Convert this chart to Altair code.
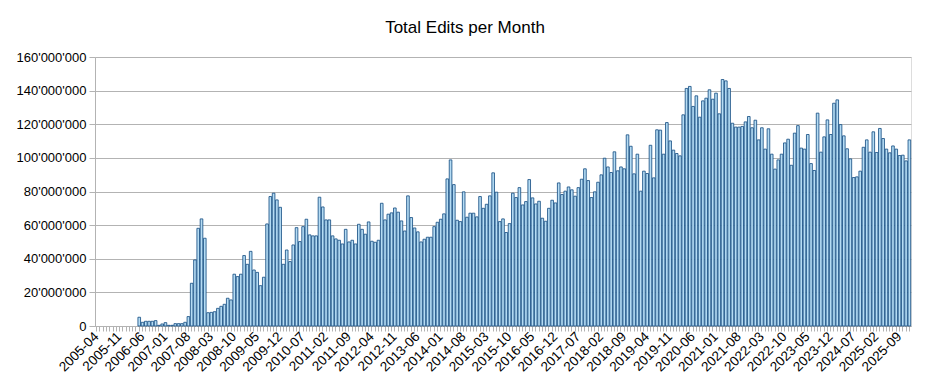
import altair as alt
import pandas as pd

# Monthly categories 2005-04 .. 2025-12
months = []
y, m = 2005, 4
while (y, m) <= (2025, 12):
    months.append(f"{y}-{m:02d}")
    m += 1
    if m > 12:
        m = 1
        y += 1

# Total edits per month, in millions
edits_m = (
    [0] * 13 +
    [5.2, 2.2, 2.8, 2.8, 2.8, 3.2, 0.4, 1.2, 2.0, 0.4, 0.4, 1.4, 1.4, 1.4, 2.2, 5.6,
     25.4, 39.3, 58.1, 63.7, 52.2, 7.9, 8.1, 8.5, 10.5, 11.7, 12.9, 16.5, 15.5,
     30.8, 29.4, 30.8, 41.9, 36.7, 44.4, 33.3, 31.9, 24.0, 29.0, 60.7, 77.0, 79.0,
     75.0, 70.6, 36.7, 45.2, 38.3, 48.2, 58.5, 50.2, 59.1, 63.5, 54.2, 53.6, 53.6,
     76.6, 70.8, 63.1, 63.1, 53.6, 51.8, 51.0, 48.8, 57.5, 50.0, 51.0, 48.8, 60.5,
     57.5, 54.6, 61.9, 50.4, 49.8, 51.0, 73.0, 63.1, 66.5, 67.3, 70.2, 67.7, 62.5,
     56.5, 77.4, 64.5, 58.3, 56.0, 50.0, 51.6, 52.8, 52.8, 59.1, 61.7, 63.5, 66.7,
     87.5, 98.8, 84.1, 62.9, 62.1, 79.8, 64.7, 67.1, 67.1, 64.9, 77.0, 70.0, 72.4,
     77.4, 91.1, 79.6, 62.1, 63.7, 55.6, 60.9, 79.0, 76.4, 82.3, 72.0, 74.0, 87.1,
     76.2, 72.6, 74.2, 64.1, 62.3, 70.0, 74.8, 73.2, 85.1, 78.2, 80.2, 82.7, 81.0,
     77.2, 82.3, 87.3, 93.5, 86.5, 76.4, 79.8, 85.5, 89.9, 99.8, 94.6, 91.3, 103.6,
     92.3, 94.6, 93.5, 113.7, 106.9, 90.5, 102.2, 80.2, 92.1, 90.7, 107.5, 88.1,
     116.7, 116.5, 102.2, 121.0, 110.1, 104.6, 102.6, 101.2, 125.6, 141.3, 142.5,
     130.6, 136.9, 124.2, 133.9, 135.5, 140.5, 134.9, 138.5, 126.2, 146.6, 145.8,
     141.3, 120.6, 118.3, 118.3, 118.7, 121.4, 124.6, 117.9, 122.4, 110.7, 117.9,
     105.2, 117.3, 102.2, 93.3, 98.8, 102.2, 108.9, 111.1, 95.6, 114.7, 119.2,
     105.8, 105.2, 113.9, 96.6, 92.5, 126.6, 103.4, 112.5, 122.6, 113.9, 132.5,
     134.5, 119.8, 113.1, 105.4, 99.4, 88.3, 88.7, 92.1, 106.3, 110.7, 103.4, 115.5,
     103.2, 117.5, 111.5, 105.2, 103.0, 107.1, 105.2, 101.4, 101.6, 98.2, 110.7]
)

y_ticks = [0, 20e6, 40e6, 60e6, 80e6, 100e6, 120e6, 140e6, 160e6]
label_months = months[0:246:7]  # 2005-04, 2005-11, ... 2025-09

n = min(len(months), len(edits_m))
df = pd.DataFrame({"month": months[:n], "edits": [v * 1e6 for v in edits_m[:n]]})
df = df[df["edits"] > 0]

label_list = "[" + ",".join(f"'{s}'" for s in label_months) + "]"

FONT = "Liberation Sans"
GRID = "#b3b3b3"

chart = alt.Chart(df).mark_bar(
    color="#b5dcf4", stroke="#1a5285", strokeWidth=0.85
).encode(
    x=alt.X(
        "month:O",
        sort=None,
        scale=alt.Scale(domain=months[:n], paddingInner=0.2, paddingOuter=0.1),
        axis=alt.Axis(
            title=None,
            labelAngle=-45,
            labelAlign="right",
            labelBaseline="middle",
            labelExpr=f"indexof({label_list}, datum.value) >= 0 ? datum.value : ''",
            labelOverlap=False,
            labelFont=FONT,
            labelFontSize=13.5,
            labelColor="#000000",
            labelPadding=3,
            tickColor=GRID,
            tickSize=5,
            domainColor=GRID,
            grid=False,
        ),
    ),
    y=alt.Y(
        "edits:Q",
        scale=alt.Scale(domain=[0, 160e6], nice=False),
        axis=alt.Axis(
            title=None,
            values=y_ticks,
            labelExpr="replace(format(datum.value, ','), /,/g, \"'\")",
            labelFont=FONT,
            labelFontSize=13,
            labelColor="#000000",
            labelPadding=3,
            tickColor=GRID,
            tickSize=6,
            domainColor=GRID,
            gridColor=GRID,
            gridWidth=1,
        ),
    ),
).properties(
    width=816,
    height=269,
    title=alt.TitleParams(
        "Total Edits per Month",
        font=FONT,
        fontSize=17,
        fontWeight="normal",
        color="#000000",
        anchor="middle",
        offset=14,
        dx=-38,
    ),
    autosize=alt.AutoSizeParams(type="none"),
    padding={"left": 87, "top": 49, "right": 10, "bottom": 53},
).configure_view(
    stroke=GRID, strokeWidth=1
).configure(background="white")

chart.save("out.html", embed_options={"renderer": "svg", "actions": False})
